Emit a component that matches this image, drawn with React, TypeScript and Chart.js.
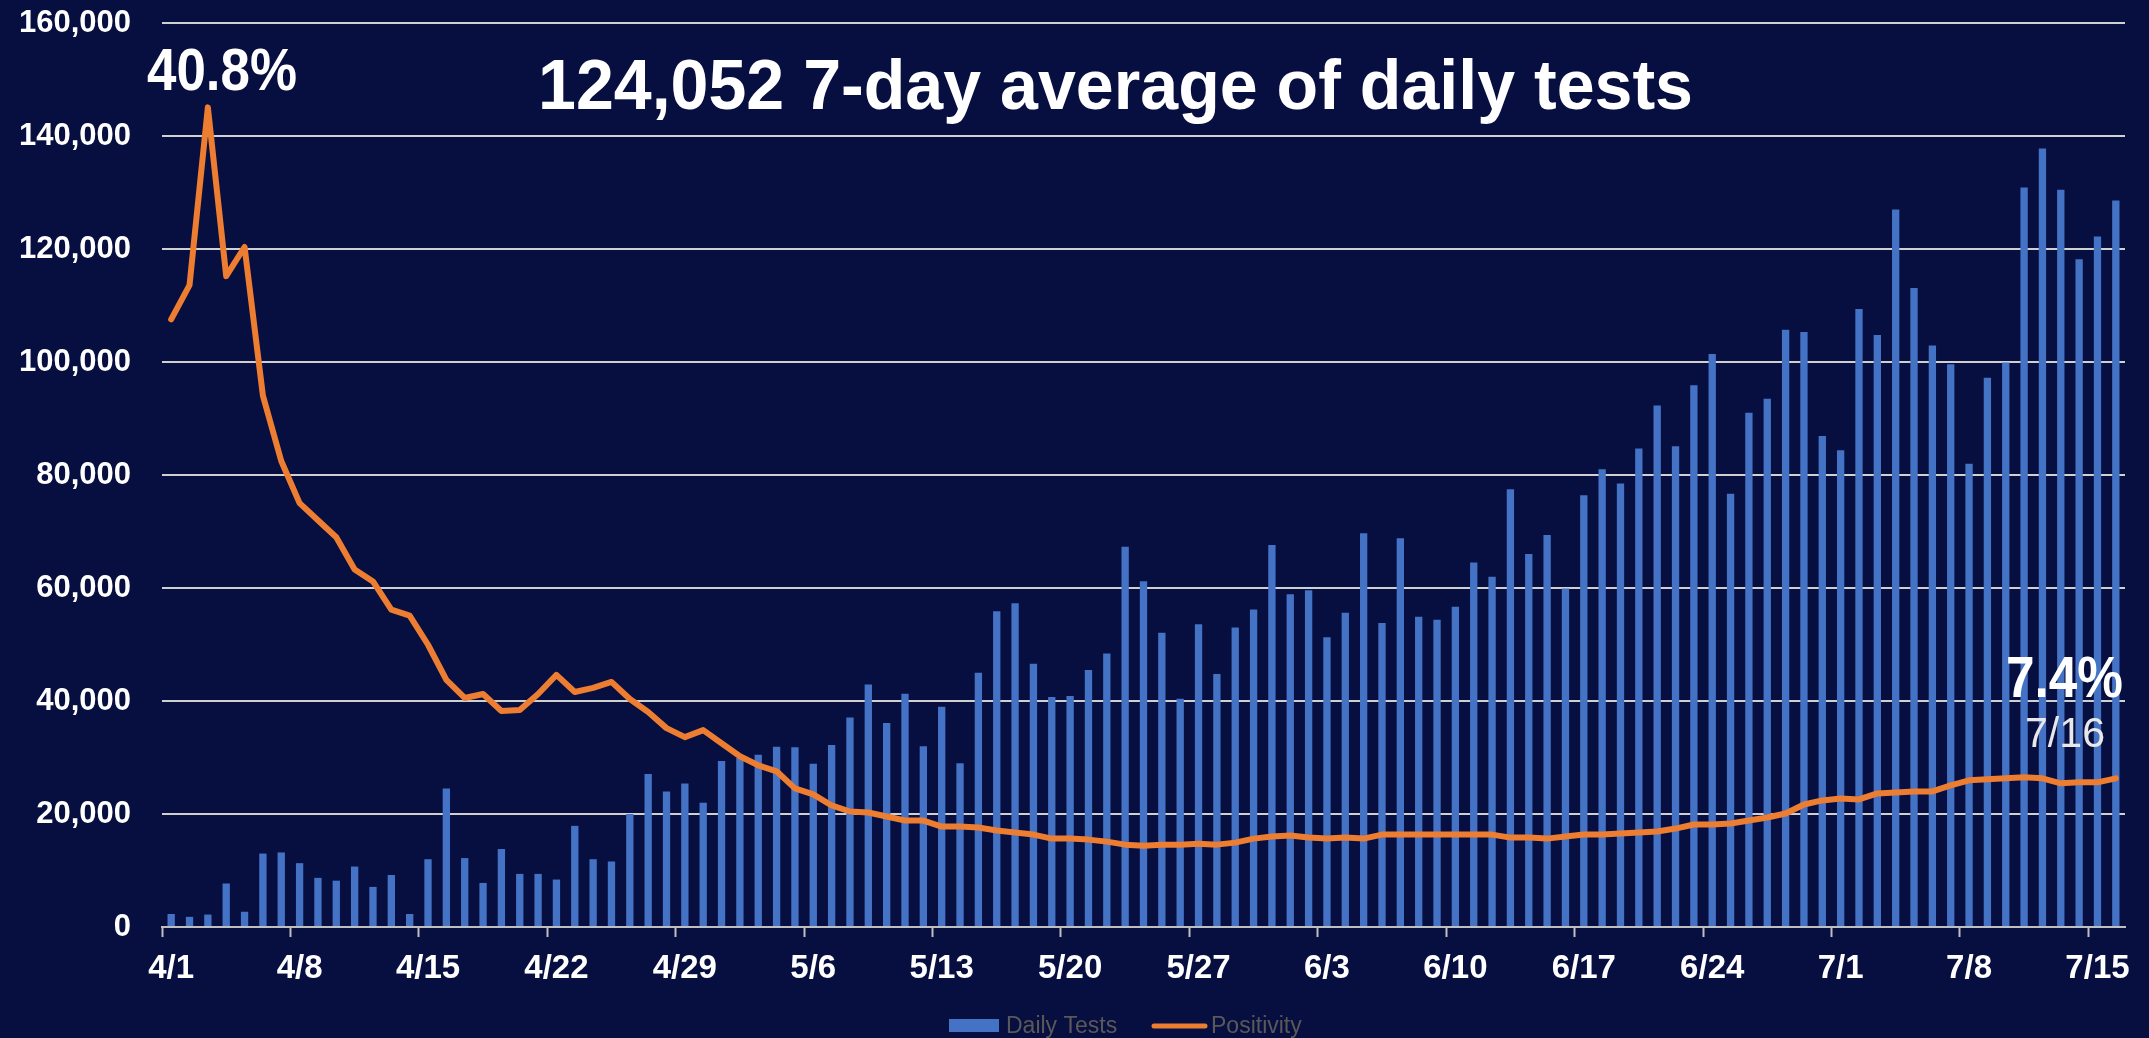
import React, { useEffect, useRef } from 'react';
import { Chart, registerables } from 'chart.js';

Chart.register(...registerables);

const W = 2149;
const H = 1038;

const BG = '#070E40';
const BLUE = '#4472C4';
const ORANGE = '#ED7D31';
const GRID = '#D0D0D0';
const AXIS = '#BFBFBF';
const LEGEND_TEXT = '#595959';
const FONT = "'Liberation Sans', Arial, sans-serif";

const categories = [
  '4/1', '4/2', '4/3', '4/4', '4/5', '4/6', '4/7', '4/8', '4/9', '4/10',
  '4/11', '4/12', '4/13', '4/14', '4/15', '4/16', '4/17', '4/18', '4/19', '4/20',
  '4/21', '4/22', '4/23', '4/24', '4/25', '4/26', '4/27', '4/28', '4/29', '4/30',
  '5/1', '5/2', '5/3', '5/4', '5/5', '5/6', '5/7', '5/8', '5/9', '5/10',
  '5/11', '5/12', '5/13', '5/14', '5/15', '5/16', '5/17', '5/18', '5/19', '5/20',
  '5/21', '5/22', '5/23', '5/24', '5/25', '5/26', '5/27', '5/28', '5/29', '5/30',
  '5/31', '6/1', '6/2', '6/3', '6/4', '6/5', '6/6', '6/7', '6/8', '6/9',
  '6/10', '6/11', '6/12', '6/13', '6/14', '6/15', '6/16', '6/17', '6/18', '6/19',
  '6/20', '6/21', '6/22', '6/23', '6/24', '6/25', '6/26', '6/27', '6/28', '6/29',
  '6/30', '7/1', '7/2', '7/3', '7/4', '7/5', '7/6', '7/7', '7/8', '7/9',
  '7/10', '7/11', '7/12', '7/13', '7/14', '7/15', '7/16',
];

const dailyTests = [
  2300, 1800, 2200, 7700, 2700, 13000, 13200,
  11300, 8700, 8200, 10700, 7100, 9200, 2300,
  12000, 24500, 12200, 7800, 13800, 9400, 9400,
  8400, 17900, 12000, 11600, 20000, 27100, 24000,
  25400, 22000, 29400, 29900, 30500, 31900, 31800,
  28900, 32200, 37100, 42900, 36100, 41300, 32000,
  39000, 29000, 45000, 55900, 57300, 46600, 40700,
  40900, 45500, 48400, 67300, 61200, 52100, 40400,
  53600, 44800, 53000, 56200, 67600, 58900, 59600,
  51300, 55600, 69700, 53800, 68800, 54900, 54400,
  56700, 64500, 62000, 77500, 66000, 69400, 59900,
  76400, 81000, 78500, 84700, 92300, 85100, 95900,
  101400, 76700, 91000, 93500, 105700, 105300, 86900,
  84400, 109400, 104800, 127000, 113100, 102900, 99600,
  82000, 97200, 99900, 130900, 137800, 130500, 118200,
  122200, 128600,
];

const positivity = [
  30.25, 31.95, 40.8, 32.4, 33.85, 26.45, 23.2,
  21.1, 20.25, 19.4, 17.8, 17.2, 15.8, 15.5,
  14.05, 12.3, 11.4, 11.6, 10.75, 10.8, 11.6,
  12.55, 11.7, 11.9, 12.2, 11.35, 10.7, 9.9,
  9.45, 9.8, 9.15, 8.5, 8.05, 7.75, 6.9,
  6.6, 6.05, 5.75, 5.7, 5.5, 5.3, 5.3,
  5.0, 5.0, 4.95, 4.8, 4.7, 4.6, 4.4,
  4.4, 4.35, 4.25, 4.1, 4.05, 4.1, 4.1,
  4.15, 4.1, 4.2, 4.4, 4.5, 4.55, 4.45,
  4.4, 4.45, 4.4, 4.6, 4.6, 4.6, 4.6,
  4.6, 4.6, 4.6, 4.45, 4.45, 4.4, 4.5,
  4.6, 4.6, 4.65, 4.7, 4.75, 4.9, 5.1,
  5.1, 5.15, 5.3, 5.45, 5.65, 6.1, 6.3,
  6.4, 6.35, 6.65, 6.7, 6.75, 6.75, 7.05,
  7.3, 7.35, 7.4, 7.45, 7.4, 7.15, 7.2,
  7.2, 7.4,
];

const tickDates = [
  '4/1', '4/8', '4/15', '4/22', '4/29', '5/6', '5/13', '5/20',
  '5/27', '6/3', '6/10', '6/17', '6/24', '7/1', '7/8', '7/15',
];

const TITLE = '124,052 7-day average of daily tests';
const PEAK_LABEL = '40.8%';
const LAST_LABEL = '7.4%';
const LAST_DATE = '7/16';
const SERIES_NAMES = ['Daily Tests', 'Positivity'];

function drawFit(
  ctx: CanvasRenderingContext2D,
  text: string,
  x: number,
  baseline: number,
  capH: number,
  width: number,
  weight: string,
  color: string,
  align: 'left' | 'right',
) {
  const size = capH / 0.716;
  ctx.save();
  ctx.font = `${weight} ${size}px ${FONT}`;
  const w = ctx.measureText(text).width;
  const sx = width / w;
  ctx.translate(align === 'left' ? x : x - width, baseline);
  ctx.scale(sx, 1);
  ctx.fillStyle = color;
  ctx.textBaseline = 'alphabetic';
  ctx.textAlign = 'left';
  ctx.fillText(text, 0, 0);
  ctx.restore();
}

export default function App() {
  const ref = useRef<HTMLCanvasElement>(null);

  useEffect(() => {
    if (!ref.current) return;
    Chart.defaults.font.family = FONT;

    const decor = {
      id: 'decor',
      beforeDraw(chart: any) {
        const ctx = chart.ctx as CanvasRenderingContext2D;
        ctx.save();
        ctx.fillStyle = BG;
        ctx.fillRect(0, 0, chart.width, chart.height);
        ctx.restore();
      },
      afterDraw(chart: any) {
        const ctx = chart.ctx as CanvasRenderingContext2D;
        drawFit(ctx, TITLE, 538, 109, 50, 1155, 'bold', '#FFFFFF', 'left');
        drawFit(ctx, PEAK_LABEL, 147, 90, 43, 150, 'bold', '#FFFFFF', 'left');
        drawFit(ctx, LAST_LABEL, 2123, 697, 41, 117, 'bold', '#FFFFFF', 'right');
        drawFit(ctx, LAST_DATE, 2025, 747, 31, 80, 'normal', '#E8E8E8', 'left');

        // legend
        ctx.save();
        ctx.fillStyle = BLUE;
        ctx.fillRect(949, 1019, 50, 13);
        ctx.font = `23px ${FONT}`;
        ctx.fillStyle = LEGEND_TEXT;
        ctx.textBaseline = 'alphabetic';
        ctx.textAlign = 'left';
        ctx.fillText(SERIES_NAMES[0], 1006, 1033);
        ctx.strokeStyle = ORANGE;
        ctx.lineWidth = 5;
        ctx.lineCap = 'round';
        ctx.beginPath();
        ctx.moveTo(1154, 1026);
        ctx.lineTo(1205, 1026);
        ctx.stroke();
        ctx.fillText(SERIES_NAMES[1], 1211, 1033);
        ctx.restore();
      },
    };

    const chart = new Chart(ref.current, {
      type: 'bar',
      data: {
        labels: categories,
        datasets: [
          {
            type: 'line',
            label: SERIES_NAMES[1],
            data: positivity,
            yAxisID: 'y2',
            borderColor: ORANGE,
            backgroundColor: ORANGE,
            borderWidth: 6,
            pointRadius: 0,
            tension: 0,
            borderJoinStyle: 'round',
            borderCapStyle: 'round',
            order: 0,
          } as any,
          {
            type: 'bar',
            label: SERIES_NAMES[0],
            data: dailyTests,
            yAxisID: 'y',
            backgroundColor: BLUE,
            barPercentage: 0.4,
            categoryPercentage: 1,
            order: 1,
          } as any,
        ],
      },
      options: {
        responsive: false,
        animation: false,
        events: [],
        layout: { padding: { left: 0, right: 24, top: 23, bottom: 0 } },
        plugins: {
          legend: { display: false },
          title: { display: false },
          tooltip: { enabled: false },
        },
        scales: {
          x: {
            offset: true,
            grid: {
              offset: true,
              drawOnChartArea: false,
              drawTicks: true,
              tickLength: 10,
              tickWidth: 2,
              tickColor: (c: any) =>
                tickDates.includes(categories[c.index]) ? AXIS : 'rgba(0,0,0,0)',
            },
            border: { display: true, color: AXIS, width: 2 },
            ticks: {
              autoSkip: false,
              maxRotation: 0,
              minRotation: 0,
              color: '#FFFFFF',
              font: { size: 33, weight: 'bold' },
              padding: 12,
              callback: (_v: any, i: number) =>
                tickDates.includes(categories[i]) ? categories[i] : '',
            },
            afterFit: (s: any) => {
              s.height = 111;
            },
          },
          y: {
            min: 0,
            max: 160000,
            ticks: {
              stepSize: 20000,
              color: '#FFFFFF',
              font: { size: 31, weight: 'bold' },
              padding: 0,
              callback: (v: any) => Number(v).toLocaleString('en-US'),
            },
            grid: {
              color: GRID,
              lineWidth: 2,
              drawTicks: true,
              tickLength: 31,
              tickColor: 'rgba(0,0,0,0)',
            },
            border: { display: false },
            afterFit: (s: any) => {
              s.width = 162;
            },
          },
          y2: {
            position: 'right',
            display: false,
            min: 0,
            max: 45,
          },
        },
      } as any,
      plugins: [decor],
    });

    return () => chart.destroy();
  }, []);

  return (
    <div
      style={{
        position: 'absolute',
        left: 0,
        top: 0,
        width: W,
        height: H,
        background: BG,
        overflow: 'hidden',
      }}
    >
      <canvas ref={ref} width={W} height={H} style={{ display: 'block', width: W, height: H }} />
    </div>
  );
}
